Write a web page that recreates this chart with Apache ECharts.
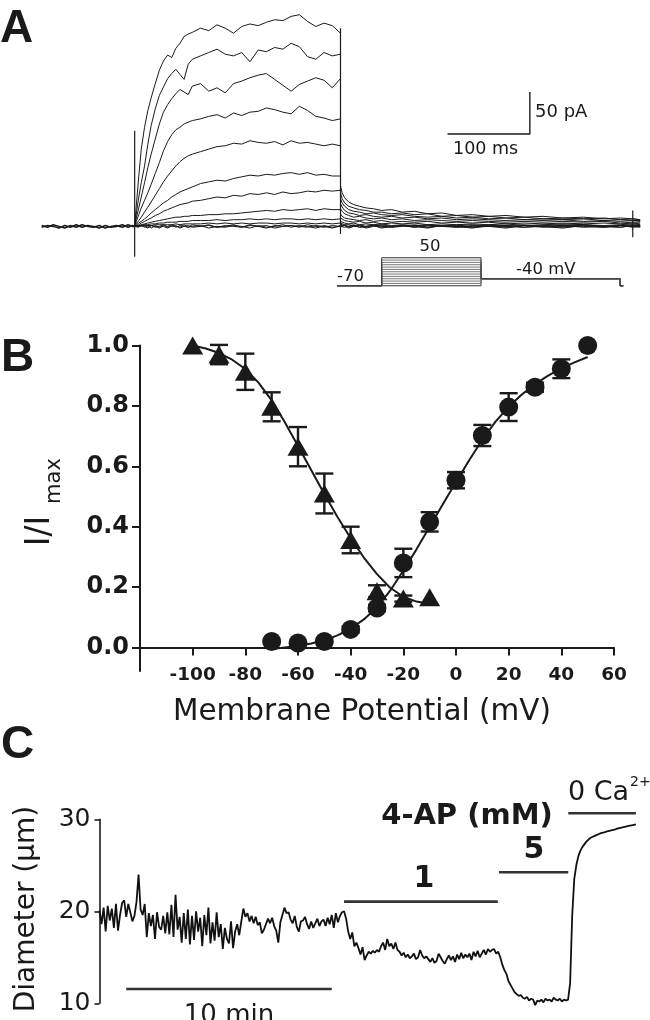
<!DOCTYPE html>
<html>
<head>
<meta charset="utf-8">
<script src="https://cdn.jsdelivr.net/npm/echarts@6/dist/echarts.min.js"></script>
<style>
html, body { margin: 0; padding: 0; background: #fff; }
#main { width: 650px; height: 1020px; }
</style>
</head>
<body>
<div id="main"></div>
<script>
// ---------- A: current traces (ms / pA) ----------
var aPreT = [-113, -106, -99, -92, -85, -78, -71, -64, -57, -50, -43, -36, -29, -22, -15, -8, -3, 0];
var aBase1 = [1, -1, 2, 0, -2, 1, -1, 2, 0, -1, 1, -2, 0, 1, -1, 2, 0, 0];
var aBase2 = [-1, 1, 0, -2, 1, -1, 2, -1, 1, 0, -2, 1, -1, 0, 2, -1, 1, 0];

var aStepT = [0, 2, 5, 8, 12, 16, 20, 25, 30, 35, 40, 45, 50, 55, 60, 65, 70, 80, 90, 100, 110, 120, 130, 140, 150, 160, 170, 180, 190, 200, 210, 220, 230, 240, 250];
var aStepI = [
    [0, 25, 60, 92, 118, 138, 153, 170, 186, 197, 204, 201, 212, 218, 226, 229, 231, 236, 233, 240, 236, 230, 238, 241, 239, 243, 246, 245, 250, 252, 244, 238, 242, 239, 230],
    [0, 15, 35, 52, 72, 98, 120, 140, 156, 166, 176, 182, 187, 181, 175, 193, 199, 203, 207, 211, 205, 203, 207, 196, 210, 208, 213, 211, 218, 214, 202, 199, 207, 203, 205],
    [0, 10, 22, 35, 52, 70, 86, 104, 122, 136, 145, 152, 158, 163, 160, 157, 167, 170, 161, 165, 159, 170, 173, 177, 180, 182, 175, 168, 161, 169, 173, 177, 174, 165, 176],
    [0, 6, 14, 22, 31, 40, 50, 63, 76, 90, 101, 109, 115, 118, 122, 124, 126, 128, 131, 133, 129, 135, 132, 136, 137, 141, 139, 136, 134, 143, 138, 131, 129, 126, 128],
    [0, 3, 7, 11, 17, 23, 29, 37, 45, 53, 60, 66, 72, 77, 81, 84, 86, 89, 92, 95, 96, 99, 98, 102, 100, 99, 101, 97, 102, 99, 100, 98, 96, 98, 96],
    [0, 2, 4, 6, 9, 12, 16, 20, 24, 28, 31, 35, 38, 41, 43, 45, 47, 51, 53, 55, 54, 57, 59, 61, 60, 62, 61, 63, 64, 62, 64, 61, 62, 60, 60],
    [0, 1, 2, 4, 6, 8, 10, 13, 15, 18, 20, 22, 24, 26, 27, 28, 30, 31, 33, 35, 34, 37, 36, 39, 38, 40, 38, 41, 39, 40, 42, 41, 43, 42, 43],
    [0, 0, 1, 2, 3, 4, 5, 6, 7, 8, 9, 10, 11, 11, 12, 12, 13, 13, 14, 14, 15, 15, 16, 17, 18, 19, 18, 20, 19, 20, 21, 19, 21, 20, 20],
    [0, 0, 1, 1, 2, 2, 3, 3, 4, 4, 5, 5, 5, 6, 6, 6, 7, 7, 7, 8, 7, 8, 8, 9, 8, 9, 8, 9, 9, 8, 9, 8, 9, 8, 9],
    [0, 0, 0, 1, 1, 1, 1, 2, 2, 2, 2, 2, 3, 2, 3, 3, 3, 3, 4, 3, 4, 3, 4, 3, 4, 4, 3, 4, 4, 3, 4, 3, 4, 3, 4],
    [0, -1, 1, 0, 2, -1, 1, 0, -2, 1, 0, 2, -1, 1, 0, -1, 2, 0, 1, -1, 0, 2, -1, 1, 0, -2, 1, 0, 1, -1, 2, 0, -1, 1, 0],
    [0, 1, -1, 2, 0, -2, 1, -1, 0, 2, -1, 0, 1, -2, 0, 1, -1, 0, 2, -1, 1, 0, -1, 2, 0, 1, -2, 0, 1, 0, -1, 1, 0, -2, 1],
    [0, -2, 0, 1, -1, 1, -2, 1, -1, 0, -2, 1, 0, -1, 2, -1, 0, 1, -2, 0, -1, 1, 0, -2, 1, -1, 0, 2, -1, 1, 0, -2, 1, -1, 0]
];

var aTailT = [250, 252, 255, 260, 266, 273, 281, 290, 300, 312, 325, 340, 356, 373, 391, 410, 430, 451, 473, 496, 520, 545, 570, 590, 605, 614];
var aTailI = [
    [48, 40, 34, 29, 26, 24, 22, 21, 19, 20, 17, 18, 15, 16, 13, 14, 12, 13, 11, 12, 10, 11, 9, 10, 9, 8],
    [40, 33, 28, 24, 22, 20, 19, 17, 17, 15, 16, 14, 15, 12, 13, 11, 12, 10, 11, 9, 10, 9, 10, 8, 9, 8],
    [33, 28, 24, 20, 18, 17, 15, 16, 14, 13, 14, 12, 11, 12, 10, 11, 9, 10, 8, 9, 8, 9, 7, 8, 7, 7],
    [27, 23, 19, 16, 15, 13, 14, 12, 11, 12, 10, 11, 9, 10, 8, 9, 8, 7, 8, 7, 8, 6, 7, 6, 7, 6],
    [21, 18, 15, 13, 11, 12, 10, 9, 10, 8, 9, 7, 8, 7, 6, 7, 6, 5, 6, 5, 6, 5, 6, 4, 5, 5],
    [15, 12, 10, 9, 8, 7, 8, 6, 7, 5, 6, 5, 6, 4, 5, 4, 5, 3, 4, 3, 4, 3, 4, 3, 4, 3],
    [10, 8, 7, 6, 5, 6, 4, 5, 3, 4, 3, 4, 2, 3, 2, 3, 2, 3, 1, 2, 3, 2, 1, 2, 3, 2],
    [6, 5, 4, 3, 4, 2, 3, 2, 3, 1, 2, 1, 2, 0, 1, 2, 0, 1, 2, 0, 1, 2, 0, 1, 2, 1],
    [4, 3, 2, 2, 1, 2, 0, 1, 2, 0, 1, -1, 1, 0, 2, -1, 1, 0, 1, -1, 0, 1, -1, 1, 0, 1],
    [2, 1, 1, 0, 1, -1, 0, 1, -1, 0, 1, 0, -1, 1, 0, -1, 0, 1, -1, 0, 1, -1, 0, 1, -1, 0],
    [0, 1, -1, 0, 2, -1, 0, 1, -2, 0, 1, -1, 2, 0, -1, 1, 0, -2, 1, 0, -1, 2, 0, -1, 1, 0],
    [1, 0, 2, -1, 0, 1, -2, 0, 1, -1, 0, 2, -1, 1, 0, -2, 1, 0, -1, 1, 2, 0, -1, 1, 0, -1],
    [-1, 0, 1, -2, 0, 1, -1, 2, 0, -1, 1, 0, -2, 1, -1, 0, 2, -1, 1, 0, -2, 1, 0, -1, 1, 0]
];

// capacitive transients
var capT = [0, 250, 605];
var capLo = [-36, -9, -13];
var capHi = [114, 236, 19];

// voltage protocol (ms / mV)
var protoLevels = [-70, -60, -50, -40, -30, -20, -10, 0, 10, 20, 30, 40, 50];
var protoT = [-112, 0, 250, 600, 608];
var holdV = -70;
var tailV = -40;

// ---------- B: activation / inactivation ----------
var actV = [-70, -60, -50, -40, -30, -20, -10, 0, 10, 20, 30, 40, 50];
var actI = [0.02, 0.015, 0.02, 0.06, 0.131, 0.28, 0.416, 0.554, 0.702, 0.796, 0.862, 0.923, 1.0];
var actSem = [0, 0, 0, 0.01, 0.01, 0.047, 0.032, 0.027, 0.035, 0.046, 0.015, 0.031, 0];

var inactV = [-100, -90, -80, -70, -60, -50, -40, -30, -20, -10];
var inactI = [1.0, 0.97, 0.913, 0.797, 0.665, 0.51, 0.356, 0.186, 0.162, 0.166];
var inactSem = [0, 0.032, 0.06, 0.048, 0.065, 0.066, 0.044, 0.02, 0.01, 0];

var actFitV = [-70, -65, -60, -55, -50, -45, -40, -35, -30, -25, -20, -15, -10, -5, 0, 5, 10, 15, 20, 25, 30, 35, 40, 45, 50];
var actFitI = [-0.005, 0.0, 0.005, 0.013, 0.024, 0.04, 0.062, 0.093, 0.133, 0.188, 0.255, 0.325, 0.4, 0.474, 0.548, 0.62, 0.688, 0.748, 0.797, 0.838, 0.872, 0.9, 0.924, 0.944, 0.962];
var inactFitV = [-100, -95, -90, -85, -80, -75, -70, -65, -60, -55, -50, -45, -40, -35, -30, -25, -20, -15, -10];
var inactFitI = [1.0, 0.99, 0.975, 0.953, 0.922, 0.877, 0.818, 0.746, 0.667, 0.588, 0.508, 0.432, 0.362, 0.298, 0.243, 0.198, 0.168, 0.152, 0.145];

var bTicksX = [-100, -80, -60, -40, -20, 0, 20, 40, 60];

// ---------- C: diameter (µm), one sample every 0.1 min ----------
var cDt = 0.1;
var cDiam = [
    20.1, 18.6, 20.4, 17.8, 20.6, 19.0, 20.3, 18.2, 20.8, 17.9,
    19.6, 20.9, 21.2, 19.4, 20.8, 19.9, 18.9, 19.5, 21.0, 24.0,
    20.2, 19.6, 20.8, 17.2, 19.8, 18.4, 19.6, 17.0, 19.9, 18.3,
    18.0, 19.5, 17.6, 19.9, 17.5, 20.7, 17.2, 21.8, 18.0, 19.4,
    16.6, 19.8, 17.0, 20.2, 16.4, 19.5, 16.9, 20.0, 17.8, 19.3,
    16.2, 19.6, 17.4, 20.4, 16.5, 18.8, 16.8, 19.9, 17.2, 18.6,
    15.9, 18.2, 17.0, 16.5, 18.9, 16.0, 17.8, 18.6, 17.4, 18.9,
    20.3, 19.4, 19.8, 18.9, 19.5, 18.7, 19.4, 18.5, 18.8, 17.6,
    18.0, 18.6, 19.2, 18.7, 19.3, 18.4, 17.9, 16.6, 18.8, 19.6,
    20.4, 19.8, 19.9, 19.1, 18.7, 19.5, 18.3, 17.8, 18.9, 19.0,
    19.4, 18.6, 18.1, 18.9, 18.2, 18.7, 19.2, 18.4, 18.9, 19.1,
    18.4, 19.3, 18.6, 19.6, 18.2, 19.8, 18.8, 19.5, 19.9, 20.0,
    19.2, 17.8, 17.0, 17.7, 16.2, 16.6, 16.0, 15.3, 16.1, 14.7,
    15.2, 15.6, 15.4, 15.7, 15.5, 15.8, 15.6, 16.2, 16.6, 15.8,
    17.0, 16.2, 16.5, 15.9, 16.6, 15.8, 15.6, 15.2, 15.5, 15.0,
    15.3, 14.9, 15.1, 15.4, 14.8, 15.0, 15.8, 15.2, 14.9, 15.1,
    14.8, 14.5, 14.9, 14.4, 14.6, 15.4, 15.0, 14.6, 14.3, 14.8,
    15.2, 14.7, 15.1, 14.5, 15.3, 14.8, 15.5, 14.9, 15.3, 15.0,
    15.4, 14.7, 15.6, 15.1, 15.7, 15.0, 15.4, 15.8, 15.3, 15.9,
    15.6, 15.8, 15.9, 15.4, 15.6, 15.0, 14.2, 13.6, 13.2, 12.4,
    12.0, 11.6, 11.2, 11.0, 10.8, 10.9, 10.6, 10.5, 10.7, 10.3,
    10.5, 10.4, 9.8, 10.3, 10.2, 10.4, 10.1, 10.5, 10.3, 10.4,
    10.2, 10.6, 10.4, 10.3, 10.5, 10.2, 10.4, 10.3, 10.4, 12.2,
    19.5, 23.5, 25.0, 26.0, 26.6, 27.0, 27.3, 27.6, 27.8, 28.0,
    28.1, 28.2, 28.3, 28.4, 28.5, 28.55, 28.6, 28.7, 28.75, 28.8,
    28.85, 28.9, 29.0, 29.05, 29.1, 29.15, 29.2, 29.25, 29.3, 29.35,
    29.4, 29.45
];
var drugLabels = ['1', '5', '0 Ca'];
var drugStart = [11.9, 19.44, 22.81];
var drugEnd = [19.38, 22.81, 26.1];

// ---------- chart ----------
var ink = '#1a1a1a';
var sans = "'DejaVu Sans', 'Liberation Sans', sans-serif";
var myChart = echarts.init(document.getElementById('main'), null, {renderer: 'canvas'});

function hiddenX(grid, min, max) {
    return {gridIndex: grid, type: 'value', min: min, max: max, show: false};
}
function lineSer(xi, data, color, width, z) {
    return {
        type: 'line', xAxisIndex: xi, yAxisIndex: xi, data: data,
        symbol: 'none', showSymbol: false, clip: false, silent: true, z: z || 2,
        lineStyle: {color: color, width: width}
    };
}
function pairs(xs, ys) {
    var out = [];
    for (var i = 0; i < xs.length; i++) out.push([xs[i], ys[i]]);
    return out;
}
function errData(xs, ys, es) {
    var out = [];
    for (var i = 0; i < xs.length; i++) {
        if (es[i] > 0) out.push([xs[i], ys[i] - es[i], ys[i] + es[i]]);
    }
    return out;
}
function errRender(params, api) {
    var x = api.value(0);
    var p1 = api.coord([x, api.value(1)]);
    var p2 = api.coord([x, api.value(2)]);
    var w = 9;
    var st = {stroke: ink, lineWidth: 2.4};
    return {type: 'group', children: [
        {type: 'line', shape: {x1: p1[0], y1: p1[1], x2: p2[0], y2: p2[1]}, style: st},
        {type: 'line', shape: {x1: p1[0] - w, y1: p1[1], x2: p1[0] + w, y2: p1[1]}, style: st},
        {type: 'line', shape: {x1: p2[0] - w, y1: p2[1], x2: p2[0] + w, y2: p2[1]}, style: st}
    ]};
}

var series = [];

// A traces
series.push(lineSer(0, pairs(aPreT, aBase1), ink, 1.5));
series.push(lineSer(0, pairs(aPreT, aBase2), ink, 1.5));
for (var i = 0; i < aStepI.length; i++) {
    var d = pairs(aStepT, aStepI[i]).concat(pairs(aTailT, aTailI[i]));
    series.push(lineSer(0, d, ink, 1));
}
for (var c = 0; c < capT.length; c++) {
    series.push(lineSer(0, [[capT[c], capLo[c]], [capT[c], capHi[c]]], ink, 1.2));
}
// scale bar 100 ms / 50 pA
series.push(lineSer(0, [[380, 110], [480, 110], [480, 160]], ink, 1.4));

// A protocol
for (var p = 0; p < protoLevels.length; p++) {
    var v = protoLevels[p];
    var edge = (p === 0 || p === protoLevels.length - 1);
    series.push(lineSer(1, [
        [protoT[0], holdV], [protoT[1], holdV], [protoT[1], v], [protoT[2], v],
        [protoT[2], tailV], [protoT[3], tailV], [protoT[3], holdV], [protoT[4], holdV]
    ], edge ? '#333' : '#777', 1));
}

// B: y axis line continues a little below the x axis
series.push(lineSer(2, [[-120, 0], [-120, -0.08]], ink, 2));
// B fits, error bars, markers
series.push(lineSer(2, pairs(inactFitV, inactFitI), ink, 2));
series.push(lineSer(2, pairs(actFitV, actFitI), ink, 2));
series.push({
    type: 'custom', xAxisIndex: 2, yAxisIndex: 2, renderItem: errRender,
    data: errData(inactV, inactI, inactSem), encode: {x: 0, y: [1, 2]}, z: 3, silent: true
});
series.push({
    type: 'custom', xAxisIndex: 2, yAxisIndex: 2, renderItem: errRender,
    data: errData(actV, actI, actSem), encode: {x: 0, y: [1, 2]}, z: 3, silent: true
});
series.push({
    type: 'scatter', xAxisIndex: 2, yAxisIndex: 2, data: pairs(inactV, inactI),
    symbol: 'triangle', symbolSize: [21, 18], itemStyle: {color: ink, opacity: 1}, z: 4, silent: true
});
series.push({
    type: 'scatter', xAxisIndex: 2, yAxisIndex: 2, data: pairs(actV, actI),
    symbol: 'circle', symbolSize: 19, itemStyle: {color: ink, opacity: 1}, z: 4, silent: true
});

// C trace
var cData = [];
for (var k = 0; k < cDiam.length; k++) cData.push([+(k * cDt).toFixed(2), cDiam[k]]);
series.push(lineSer(3, cData, '#111', 1.8));
var drugLevel = [21.05, 24.25, 30.65];
for (var g = 0; g < drugLabels.length; g++) {
    series.push(lineSer(3, [[drugStart[g], drugLevel[g]], [drugEnd[g], drugLevel[g]]], '#333', 2.6));
}
series.push(lineSer(3, [[1.3, 11.55], [11.3, 11.55]], '#333', 2.6));

function gtext(x, y, s, size, opt) {
    opt = opt || {};
    return {
        type: 'text', x: x, y: y, rotation: opt.rot || 0, silent: true,
        style: {
            text: s, fontSize: size, fontFamily: opt.family || sans,
            fontWeight: opt.bold ? 'bold' : 'normal', fill: opt.fill || ink,
            align: opt.align || 'left', verticalAlign: 'middle'
        }
    };
}

var option = {
    backgroundColor: '#fff',
    animation: false,
    grid: [
        {left: 40, top: 8, width: 601, height: 252, outerBoundsMode: 'none'},
        {left: 336, top: 255.4, width: 290, height: 32.7, outerBoundsMode: 'none'},
        {left: 140, top: 345.5, width: 474, height: 302, outerBoundsMode: 'none'},
        {left: 99.5, top: 819.3, width: 536.4, height: 184, outerBoundsMode: 'none'}
    ],
    xAxis: [
        hiddenX(0, -115, 615),
        hiddenX(1, -115, 615),
        {
            gridIndex: 2, type: 'value', min: -120, max: 60,
            axisLine: {onZero: false, lineStyle: {color: ink, width: 2}},
            axisTick: {show: true, length: 8, customValues: bTicksX, lineStyle: {color: ink, width: 2}},
            axisLabel: {customValues: bTicksX, margin: 18, color: ink, fontFamily: sans, fontWeight: 'bold', fontSize: 18.5},
            splitLine: {show: false}
        },
        hiddenX(3, 0, 26.1)
    ],
    yAxis: [
        {gridIndex: 0, type: 'value', min: -40, max: 260, show: false},
        {gridIndex: 1, type: 'value', min: -80, max: 60, show: false},
        {
            gridIndex: 2, type: 'value', min: 0, max: 1.0, interval: 0.2,
            axisLine: {show: true, onZero: false, lineStyle: {color: ink, width: 2}},
            axisTick: {show: true, length: 8, lineStyle: {color: ink, width: 2}},
            axisLabel: {
                margin: 11, color: ink, fontFamily: sans, fontWeight: 'bold', fontSize: 24,
                formatter: function (v) { return v.toFixed(1); }
            },
            splitLine: {show: false}
        },
        {
            gridIndex: 3, type: 'value', min: 10, max: 30, interval: 10,
            axisLine: {show: true, onZero: false, lineStyle: {color: ink, width: 1.6}},
            axisTick: {show: true, length: 5, lineStyle: {color: ink, width: 1.6}},
            axisLabel: {margin: 9, color: ink, fontFamily: sans, fontSize: 25},
            splitLine: {show: false}
        }
    ],
    graphic: [
        gtext(0, 29, 'A', 46, {bold: true, family: "'Liberation Sans', Arial, sans-serif"}),
        gtext(1, 358, 'B', 46, {bold: true, family: "'Liberation Sans', Arial, sans-serif"}),
        gtext(1, 745, 'C', 46, {bold: true, family: "'Liberation Sans', Arial, sans-serif"}),
        // A labels
        gtext(535, 112, '50 pA', 18),
        gtext(453, 149.5, '100 ms', 17.5),
        gtext(337, 277, '-70', 16.5),
        gtext(430, 247, '50', 16.5, {align: 'center'}),
        gtext(516, 270, '-40 mV', 16.5),
        // B titles
        gtext(40, 531, 'I/I', 33, {align: 'center', rot: Math.PI / 2}),
        gtext(55, 481, 'max', 21, {align: 'center', rot: Math.PI / 2}),
        gtext(362, 712, 'Membrane Potential (mV)', 29.5, {align: 'center'}),
        // C titles
        gtext(27, 909, 'Diameter (\u00b5m)', 28, {align: 'center', rot: Math.PI / 2}),
        gtext(467, 816, '4-AP (mM)', 29, {align: 'center', bold: true}),
        gtext(424, 879, drugLabels[0], 30, {align: 'center', bold: true}),
        gtext(534, 850, drugLabels[1], 30, {align: 'center', bold: true}),
        gtext(568, 793, drugLabels[2], 27),
        gtext(630, 782, '2+', 14),
        gtext(229, 1016, '10 min', 26, {align: 'center'})
    ],
    series: series
};
myChart.setOption(option);
</script>
</body>
</html>
